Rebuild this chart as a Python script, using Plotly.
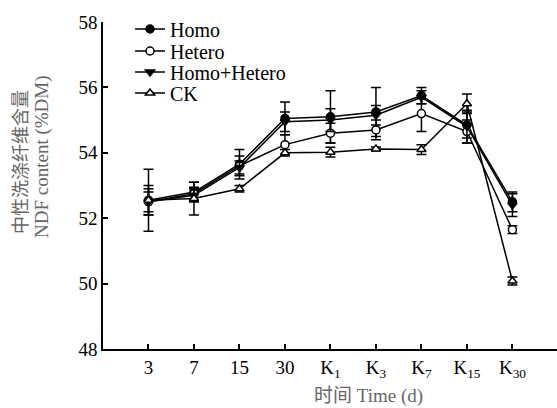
import plotly.graph_objects as go

categories = ["3", "7", "15", "30", "K<sub>1</sub>", "K<sub>3</sub>", "K<sub>7</sub>", "K<sub>15</sub>", "K<sub>30</sub>"]
x_idx = list(range(len(categories)))

homo = [52.55, 52.80, 53.65, 55.05, 55.10, 55.25, 55.75, 54.85, 52.50]
homo_err = [0.45, 0.30, 0.45, 0.50, 0.80, 0.75, 0.25, 0.40, 0.30]
hetero = [52.50, 52.75, 53.60, 54.25, 54.60, 54.70, 55.20, 54.65, 51.65]
hetero_err = [0.30, 0.20, 0.30, 0.30, 0.30, 0.30, 0.55, 0.35, 0.12]
homo_hetero = [52.50, 52.70, 53.55, 54.95, 55.00, 55.15, 55.70, 54.80, 52.40]
homo_hetero_err = [0.40, 0.20, 0.20, 0.30, 0.35, 0.30, 0.20, 0.50, 0.35]
ck = [52.55, 52.60, 52.90, 54.00, 54.02, 54.12, 54.10, 55.50, 50.08]
ck_err = [0.95, 0.50, 0.10, 0.10, 0.15, 0.06, 0.15, 0.30, 0.12]

series = [
    ("Homo", homo, homo_err, "circle", "black"),
    ("Hetero", hetero, hetero_err, "circle", "white"),
    ("Homo+Hetero", homo_hetero, homo_hetero_err, "triangle-down", "black"),
    ("CK", ck, ck_err, "triangle-up", "white"),
]

serif = "Liberation Serif, Times New Roman, Noto Sans CJK SC, serif"

# plot-area geometry (pixels) used to place legends/titles
L, T, B, W, H = 103, 22, 59, 557, 408
PW, PH = W - L, H - T - B


def px_x(x):
    return (x - L) / PW


def px_y(y):
    return (H - B - y) / PH


legend_names = ["legend", "legend2", "legend3", "legend4"]
legend_rows = [29, 51, 72, 93]

fig = go.Figure()
for (name, vals, errs, sym, fill), lg in zip(series, legend_names):
    fig.add_trace(go.Scatter(
        x=x_idx, y=vals, name=name, mode="lines+markers", legend=lg,
        line=dict(color="black", width=1.5),
        marker=dict(symbol=sym, size=8, color=fill, line=dict(color="black", width=1.5)),
        error_y=dict(type="data", array=errs, visible=True, color="black", thickness=1.5, width=5),
    ))

layout_legends = {}
for lg, row in zip(legend_names, legend_rows):
    layout_legends[lg] = dict(
        x=px_x(130), y=px_y(row), xanchor="left", yanchor="middle",
        font=dict(family=serif, size=20, color="black"),
        bgcolor="rgba(0,0,0,0)", itemwidth=30, borderwidth=0,
    )

fig.update_layout(
    width=W, height=H,
    margin=dict(l=L, r=0, t=T, b=B),
    paper_bgcolor="white", plot_bgcolor="white",
    showlegend=True,
    **layout_legends,
    xaxis=dict(range=[-1, 8.98], tickmode="array", tickvals=x_idx, ticktext=categories,
               showline=True, linecolor="black", linewidth=1.5, ticks="inside", ticklen=5,
               tickcolor="black", tickwidth=1.5, showgrid=False, zeroline=False,
               tickfont=dict(family=serif, size=19, color="black")),
    yaxis=dict(range=[48, 58], tickvals=[48, 50, 52, 54, 56, 58],
               showline=True, linecolor="black", linewidth=1.5, ticks="inside", ticklen=5,
               tickcolor="black", tickwidth=1.5, showgrid=False, zeroline=False,
               tickfont=dict(family=serif, size=19, color="black")),
    annotations=[
        dict(text="中性洗涤纤维含量", textangle=-90,
             xref="paper", yref="paper", x=px_x(21), y=px_y(162),
             xanchor="center", yanchor="middle", showarrow=False,
             font=dict(family=serif, size=18, color="#666666")),
        dict(text="NDF content (%DM)", textangle=-90,
             xref="paper", yref="paper", x=px_x(42), y=px_y(157),
             xanchor="center", yanchor="middle", showarrow=False,
             font=dict(family=serif, size=19, color="#666666")),
        dict(text="时间 Time (d)", xref="paper", yref="paper",
             x=px_x(368), y=px_y(396), xanchor="center", yanchor="middle",
             showarrow=False, font=dict(family=serif, size=19, color="#666666")),
    ],
)

fig.write_html("out.html")
